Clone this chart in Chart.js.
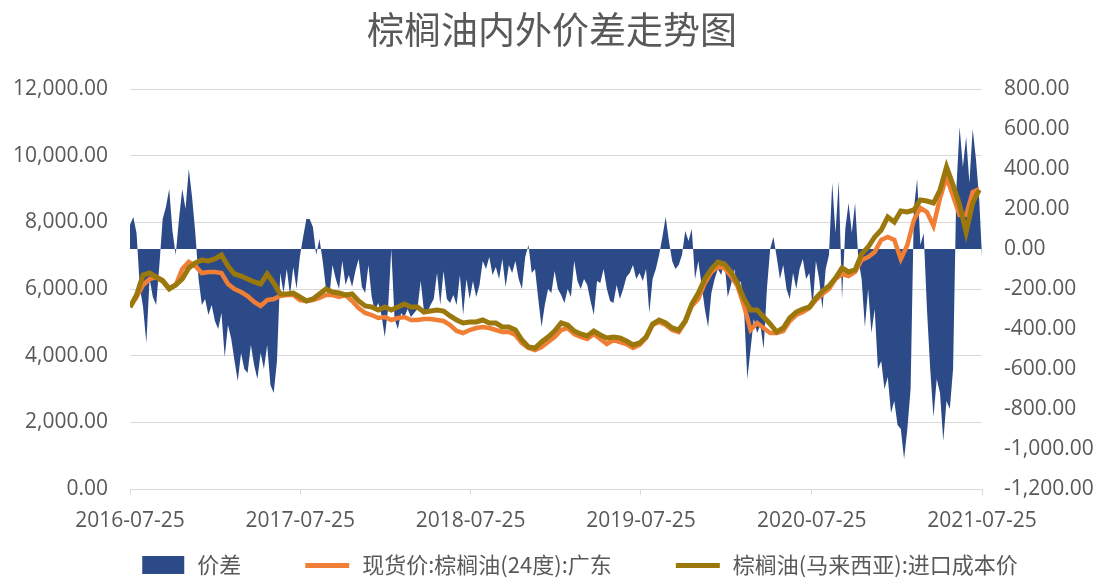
<!DOCTYPE html>
<html lang="zh-CN">
<head>
<meta charset="utf-8">
<title>棕榈油内外价差走势图</title>
<script src="https://cdn.jsdelivr.net/npm/chart.js@4.4.1/dist/chart.umd.min.js"></script>
<style>
  html, body { margin: 0; padding: 0; background: #fff; }
  #wrap { width: 1104px; height: 581px; }
</style>
</head>
<body>
<div id="wrap"><canvas id="spread"></canvas></div>
<script>
// 价差（右轴），周度，从 2016-07-25 起
var spreadStepDays = 7
var spread = [
	120, 160, 80, -190, -290, -470, -150, -240, -280, -80,
	150, 210, 300, 90, -30, 150, 300, 200, 400, 260,
	80, -150, -280, -250, -330, -280, -360, -400, -320, -540,
	-380, -450, -560, -660, -520, -600, -620, -480, -580, -650,
	-520, -600, -480, -680, -720, -560, -120, -220, -100, -230,
	-90, -200, -40, 60, 150, 150, 110, -30, 50, -60,
	-200, -240, -80, -150, -200, -60, -180, -130, -190, -110,
	-50, -190, -220, -80, -240, -310, -270, -330, -440, -300,
	0, -350, -400, -320, -340, -300, -340, -320, -300, -160,
	-310, -320, -280, -250, -120, -280, -110, -250, -270, -230,
	-280, -130, -330, -150, -250, -160, -240, -180, -60, -100,
	-40, -130, -90, -150, -50, -190, -80, -120, -60, -150,
	-200, -40, 20, -120, -100, -250, -390, -280, -200, -220,
	-110, -200, -230, -270, -200, -240, -60, -160, -200, -150,
	-180, -260, -330, -160, -170, -100, -200, -260, -270, -180,
	-250, -200, -140, -120, -80, -150, -120, -160, -100, -320,
	-150, -100, -30, 60, 160, 40, -60, -100, -80, -30,
	90, 40, 100, -150, -60, -180, -300, -390, -220, -150,
	-100, -130, -60, -240, -180, -100, -200, -160, -300, -650,
	-500, -350, -420, -380, -500, -200, 0, 60, -40, -150,
	-80, -200, -250, -120, -200, -100, -50, -150, -120, -290,
	-60, -150, -300, -100, -30, 330, 80, 340, -250, 100,
	230, 80, 230, -50, -150, -390, -200, -420, -300, -600,
	-560, -700, -640, -820, -760, -880, -900, -1050, -900, -700,
	200, 350, 20, 80, -300, -600, -840, -650, -720, -960,
	-760, -800, -600, 300, 610, 410, 560, 330, 600, 450,
	250, -90
]

// 两条价格线（左轴），双周度
var priceStepDays = 14
var spotGD = [
	5460, 5760, 6120, 6300, 6360, 6270, 6030, 6120, 6600, 6810,
	6690, 6480, 6510, 6510, 6480, 6150, 6000, 5910, 5790, 5610,
	5490, 5670, 5700, 5790, 5820, 5820, 5670, 5640, 5670, 5730,
	5820, 5820, 5760, 5820, 5640, 5430, 5280, 5220, 5130, 5160,
	5070, 5130, 5160, 5070, 5070, 5100, 5100, 5070, 5040, 4920,
	4740, 4680, 4770, 4830, 4860, 4830, 4770, 4710, 4710, 4620,
	4380, 4230, 4170, 4260, 4410, 4560, 4770, 4830, 4650, 4560,
	4500, 4650, 4500, 4350, 4470, 4410, 4350, 4230, 4320, 4530,
	4920, 5010, 4920, 4770, 4710, 5010, 5490, 5700, 6180, 6510,
	6660, 6630, 6390, 6090, 5490, 4770, 4980, 4830, 4680, 4680,
	4740, 5040, 5220, 5310, 5430, 5670, 5850, 6000, 6300, 6450,
	6390, 6510, 6870, 6960, 7110, 7470, 7560, 7470, 6900, 7320,
	8070, 8430, 8310, 7890, 8730, 9360, 8790, 8220, 8220, 8910,
	9000
]
var importCost = [
	5460, 5820, 6420, 6480, 6360, 6240, 6000, 6120, 6300, 6630,
	6780, 6870, 6840, 6900, 7020, 6690, 6450, 6390, 6300, 6210,
	6150, 6450, 6180, 5850, 5850, 5880, 5760, 5640, 5700, 5850,
	6000, 5910, 5880, 5820, 5850, 5640, 5490, 5460, 5370, 5460,
	5370, 5460, 5550, 5460, 5460, 5310, 5340, 5370, 5340, 5190,
	5070, 4980, 5010, 5010, 5070, 4980, 4980, 4860, 4860, 4770,
	4470, 4260, 4230, 4410, 4560, 4740, 4980, 4920, 4740, 4650,
	4590, 4740, 4620, 4530, 4560, 4530, 4440, 4320, 4380, 4560,
	4950, 5070, 4980, 4830, 4770, 5040, 5550, 5880, 6300, 6600,
	6810, 6750, 6510, 6180, 5700, 5370, 5370, 5160, 4950, 4710,
	4830, 5130, 5310, 5400, 5460, 5730, 5940, 6090, 6330, 6630,
	6510, 6570, 7050, 7260, 7560, 7770, 8160, 8010, 8340, 8310,
	8370, 8670, 8640, 8580, 8970, 9660, 9120, 8520, 7710, 8580,
	8970
]

// 横轴刻度（距起点天数）及其标签
var tickDays = [0, 365, 730, 1095, 1461, 1826]
var tickLabels = ['2016-07-25', '2017-07-25', '2018-07-25', '2019-07-25', '2020-07-25', '2021-07-25']

var seriesNames = ['价差', '现货价:棕榈油(24度):广东', '棕榈油(马来西亚):进口成本价']

var textColor = '#595959'
var gridColor = '#D9D9D9'
var navy = '#2C4A87'
var orange = '#F07F35'
var olive = '#9A780C'
var numFont = { family: "'Open Sans', sans-serif", size: 21 }
var cjkFont = "'Noto Sans CJK SC', sans-serif"

// 图例标记：左侧留白，右侧画色块或线段
var markW = 100
function legendMark(color, isArea) {
	var c = document.createElement('canvas')
	c.width = markW
	c.height = 18
	var g = c.getContext('2d')
	g.fillStyle = color
	if (isArea) g.fillRect(markW - 44, 0, 42, 18)
	else g.fillRect(markW - 46, 7, 44, 5)
	return c
}

function toPoints(values, step) {
	return values.map(function(v, i) { return { x: i * step, y: v } })
}

function fmt(v) {
	return Number(v).toLocaleString('en-US', { minimumFractionDigits: 2, maximumFractionDigits: 2 })
}

var ctx = document.getElementById('spread').getContext('2d')
var chart = new Chart(ctx, {
	type: 'line',
	data: {
		datasets: [{
			label: seriesNames[0],
			data: toPoints(spread, spreadStepDays),
			yAxisID: 'yR',
			fill: 'origin',
			backgroundColor: navy,
			borderColor: navy,
			borderWidth: 0,
			pointRadius: 0,
			tension: 0,
			order: 3
		}, {
			label: seriesNames[1],
			data: toPoints(spotGD, priceStepDays),
			yAxisID: 'yL',
			fill: false,
			borderColor: orange,
			backgroundColor: orange,
			borderWidth: 4.5,
			pointRadius: 0,
			tension: 0,
			order: 2
		}, {
			label: seriesNames[2],
			data: toPoints(importCost, priceStepDays),
			yAxisID: 'yL',
			fill: false,
			borderColor: olive,
			backgroundColor: olive,
			borderWidth: 5,
			pointRadius: 0,
			tension: 0,
			order: 1
		}]
	},
	options: {
		responsive: true,
		maintainAspectRatio: false,
		animation: false,
		devicePixelRatio: 1,
		layout: { padding: { left: 0, right: 0, top: 0, bottom: -5 } },
		plugins: {
			title: {
				display: true,
				text: '棕榈油内外价差走势图',
				color: textColor,
				font: { family: cjkFont, size: 37, weight: 'normal' },
				padding: { top: 8, bottom: 36.6 }
			},
			legend: {
				position: 'bottom',
				labels: {
					color: textColor,
					font: { family: cjkFont, size: 22 },
					usePointStyle: true,
					pointStyleWidth: markW,
					padding: 10,
					generateLabels: function(chart) {
						return chart.data.datasets.map(function(ds, i) {
							var area = i === 0
							return {
								text: ds.label,
								datasetIndex: i,
								pointStyle: legendMark(area ? ds.backgroundColor : ds.borderColor, area),
								fillStyle: 'rgba(0,0,0,0)',
								strokeStyle: 'rgba(0,0,0,0)',
								lineWidth: 0,
								fontColor: textColor,
								hidden: false
							}
						})
					}
				}
			},
			tooltip: { enabled: false }
		},
		scales: {
			x: {
				type: 'linear',
				min: 0,
				max: 1826,
				afterBuildTicks: function(scale) {
					scale.ticks = tickDays.map(function(d) { return { value: d } })
				},
				afterFit: function(scale) { scale.height = 55 },
				ticks: {
					color: textColor,
					font: numFont,
					maxRotation: 0,
					autoSkip: false,
					padding: 13,
					callback: function(v) { return tickLabels[tickDays.indexOf(v)] }
				},
				grid: { drawOnChartArea: false, color: gridColor, tickLength: 6 },
				border: { color: gridColor }
			},
			yL: {
				position: 'left',
				min: 0,
				max: 12000,
				afterFit: function(scale) { scale.width = 130 },
				ticks: { stepSize: 2000, color: textColor, font: numFont, padding: 22, callback: fmt },
				grid: { color: gridColor, drawTicks: false },
				border: { display: false }
			},
			yR: {
				position: 'right',
				min: -1200,
				max: 800,
				afterFit: function(scale) { scale.width = 122 },
				ticks: { stepSize: 200, color: textColor, font: numFont, padding: 22, callback: fmt },
				grid: { drawOnChartArea: false, drawTicks: false },
				border: { display: false }
			}
		}
	}
})
</script>
</body>
</html>
